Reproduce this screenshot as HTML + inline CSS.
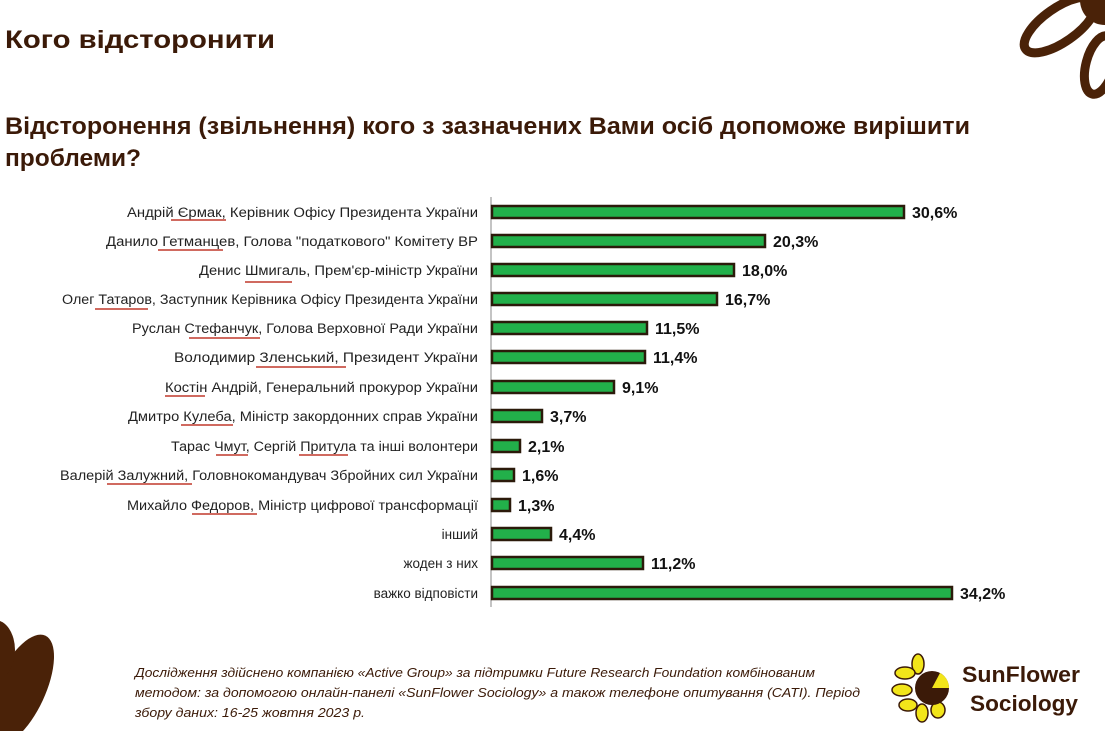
<!DOCTYPE html>
<html><head><meta charset="utf-8"><style>
html,body{margin:0;padding:0;background:#fff;}
svg{display:block;}
</style></head><body>
<svg width="1105" height="731" viewBox="0 0 1105 731" xmlns="http://www.w3.org/2000/svg" font-family="Liberation Sans, sans-serif">
<rect width="1105" height="731" fill="#fff"/>
<g fill="none" stroke="#4a2208" stroke-width="9">
<ellipse cx="1060" cy="25" rx="42" ry="17" transform="rotate(-35 1060 25)"/>
<ellipse cx="1100" cy="65" rx="30" ry="14" transform="rotate(-75 1100 65)"/>
</g>
<circle cx="1105" cy="0" r="25" fill="#4a2208"/>
<g fill="#4a2208">
<ellipse cx="20" cy="690" rx="25" ry="60" transform="rotate(25 20 690)"/>
<ellipse cx="-5" cy="650" rx="20" ry="30"/>
</g>
<text x="5" y="48" font-size="25" font-weight="bold" fill="#3b1a08" textLength="270" lengthAdjust="spacingAndGlyphs">Кого відсторонити</text>
<text x="5" y="134" font-size="24" font-weight="bold" fill="#3b1a08" textLength="965" lengthAdjust="spacingAndGlyphs">Відсторонення (звільнення) кого з зазначених Вами осіб допоможе вирішити</text>
<text x="5" y="166" font-size="24" font-weight="bold" fill="#3b1a08" textLength="136" lengthAdjust="spacingAndGlyphs">проблеми?</text>
<line x1="491" y1="197" x2="491" y2="607" stroke="#888" stroke-width="1"/>
<g font-size="13.5" fill="#222" text-anchor="end">
<text x="478" y="217" textLength="351" lengthAdjust="spacingAndGlyphs">Андрій Єрмак, Керівник Офісу Президента України</text>
<text x="478" y="246" textLength="372" lengthAdjust="spacingAndGlyphs">Данило Гетманцев, Голова "податкового" Комітету ВР</text>
<text x="478" y="275" textLength="279" lengthAdjust="spacingAndGlyphs">Денис Шмигаль, Прем'єр-міністр України</text>
<text x="478" y="304" textLength="416" lengthAdjust="spacingAndGlyphs">Олег Татаров, Заступник Керівника Офісу Президента України</text>
<text x="478" y="333" textLength="346" lengthAdjust="spacingAndGlyphs">Руслан Стефанчук, Голова Верховної Ради України</text>
<text x="478" y="362" textLength="304" lengthAdjust="spacingAndGlyphs">Володимир Зленський, Президент України</text>
<text x="478" y="392" textLength="313" lengthAdjust="spacingAndGlyphs">Костін Андрій, Генеральний прокурор України</text>
<text x="478" y="421" textLength="350" lengthAdjust="spacingAndGlyphs">Дмитро Кулеба, Міністр закордонних справ України</text>
<text x="478" y="451" textLength="307" lengthAdjust="spacingAndGlyphs">Тарас Чмут, Сергій Притула та інші волонтери</text>
<text x="478" y="480" textLength="418" lengthAdjust="spacingAndGlyphs">Валерій Залужний, Головнокомандувач Збройних сил України</text>
<text x="478" y="510" textLength="351" lengthAdjust="spacingAndGlyphs">Михайло Федоров, Міністр цифрової трансформації</text>
<text x="478" y="539">інший</text>
<text x="478" y="568">жоден з них</text>
<text x="478" y="598">важко відповісти</text>
</g>
<g stroke="#c0392b" stroke-width="1.5">
<line x1="171" y1="220" x2="226" y2="220"/>
<line x1="158" y1="250" x2="223" y2="250"/>
<line x1="245" y1="282" x2="292" y2="282"/>
<line x1="95" y1="309" x2="148" y2="309"/>
<line x1="189" y1="338" x2="260" y2="338"/>
<line x1="256" y1="367" x2="346" y2="367"/>
<line x1="165" y1="396" x2="205" y2="396"/>
<line x1="181" y1="425" x2="233" y2="425"/>
<line x1="216" y1="455" x2="248" y2="455"/>
<line x1="299" y1="455" x2="348" y2="455"/>
<line x1="107" y1="484" x2="192" y2="484"/>
<line x1="192" y1="514" x2="257" y2="514"/>
</g>
<g fill="#22b04a" stroke="#2b1a0a" stroke-width="2.5">
<rect x="492" y="206" width="412" height="12"/>
<rect x="492" y="235" width="273" height="12"/>
<rect x="492" y="264" width="242" height="12"/>
<rect x="492" y="293" width="225" height="12"/>
<rect x="492" y="322" width="155" height="12"/>
<rect x="492" y="351" width="153" height="12"/>
<rect x="492" y="381" width="122" height="12"/>
<rect x="492" y="410" width="50" height="12"/>
<rect x="492" y="440" width="28" height="12"/>
<rect x="492" y="469" width="22" height="12"/>
<rect x="492" y="499" width="18" height="12"/>
<rect x="492" y="528" width="59" height="12"/>
<rect x="492" y="557" width="151" height="12"/>
<rect x="492" y="587" width="460" height="12"/>
</g>
<g font-size="16" font-weight="bold" fill="#111">
<text x="912" y="218">30,6%</text>
<text x="773" y="247">20,3%</text>
<text x="742" y="276">18,0%</text>
<text x="725" y="305">16,7%</text>
<text x="655" y="334">11,5%</text>
<text x="653" y="363">11,4%</text>
<text x="622" y="393">9,1%</text>
<text x="550" y="422">3,7%</text>
<text x="528" y="452">2,1%</text>
<text x="522" y="481">1,6%</text>
<text x="518" y="511">1,3%</text>
<text x="559" y="540">4,4%</text>
<text x="651" y="569">11,2%</text>
<text x="960" y="599">34,2%</text>
</g>
<g font-size="13" font-style="italic" fill="#3b1a08">
<text x="135" y="677" textLength="680" lengthAdjust="spacingAndGlyphs">Дослідження здійснено компанією «Active Group» за підтримки Future Research Foundation комбінованим</text>
<text x="135" y="697" textLength="725" lengthAdjust="spacingAndGlyphs">методом: за допомогою онлайн-панелі «SunFlower Sociology» а також телефоне опитування (CATI). Період</text>
<text x="135" y="717" textLength="230" lengthAdjust="spacingAndGlyphs">збору даних: 16-25 жовтня 2023 р.</text>
</g>
<g>
<g fill="#f2e51a" stroke="#3b1a08" stroke-width="1.5">
<ellipse cx="918" cy="664" rx="6" ry="10"/>
<ellipse cx="905" cy="673" rx="10" ry="6"/>
<ellipse cx="902" cy="690" rx="10" ry="6"/>
<ellipse cx="908" cy="705" rx="9" ry="6"/>
<ellipse cx="922" cy="713" rx="6" ry="9"/>
<ellipse cx="938" cy="710" rx="7" ry="8"/>
</g>
<circle cx="932" cy="688" r="17" fill="#3b1a08"/>
<path d="M932 688 L949 688 A17 17 0 0 0 940 673 Z" fill="#f2e51a"/>
<text x="962" y="682" font-size="22" font-weight="bold" fill="#3b1a08" textLength="118" lengthAdjust="spacingAndGlyphs">SunFlower</text>
<text x="970" y="711" font-size="22" font-weight="bold" fill="#3b1a08" textLength="108" lengthAdjust="spacingAndGlyphs">Sociology</text>
</g>
</svg>
</body></html>
